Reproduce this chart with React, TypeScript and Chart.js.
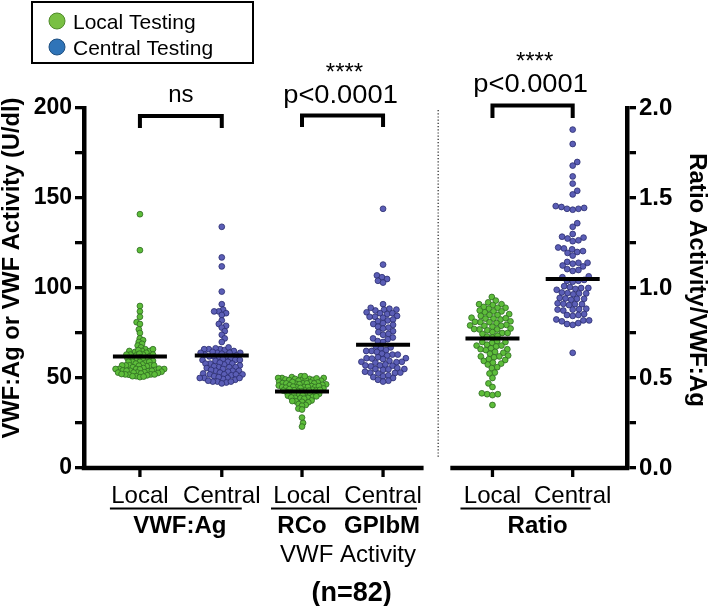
import React, { useEffect, useRef } from 'react';
import { Chart, registerables } from 'chart.js';

Chart.register(...registerables);

// ---------------- data ----------------
const categories = ['Local', 'Central', 'Local', 'Central', 'Local', 'Central'];
const groupLabels = ['VWF:Ag', 'RCo', 'GPIbM', 'Ratio'];
const activityLabel = 'VWF Activity';
const nLabel = '(n=82)';
const seriesNames = ['Local Testing', 'Central Testing'];
const leftTitle = 'VWF:Ag or VWF Activity (U/dl)';
const rightTitle = 'Ratio Activity/VWF:Ag';
const leftMajorStep = 50;
const rightMajorStep = 0.5;
const significance = ['ns', 'p<0.0001', 'p<0.0001'];
const stars = ['', '****', '****'];

const agLocal = [
  141, 121, 90, 87, 84, 81, 80, 77, 75, 72, 71, 70, 69, 68, 67, 66,
  65, 65, 64.5, 65.5, 64, 65, 66,
  63, 62.5, 63, 63.5, 62, 63, 63,
  61, 60.5, 61, 61.5, 60, 61,
  59, 59, 58.5, 59.5, 58, 59, 59,
  57, 57, 56.5, 57.5, 56, 57, 57, 57, 56.8,
  55, 55, 54.5, 55.5, 55, 55, 54.8, 55.2,
  54, 53.8, 54.2, 54, 53.5, 54,
  53, 52.8, 53, 53.2, 52.5, 53,
  52, 51.8, 52, 52.2, 51.5, 52,
  51, 50.5, 50.8, 51,
];
const agCentral = [
  134, 117, 112, 98, 91, 88, 87, 87, 86, 85, 82, 80, 79, 78, 76, 74, 72, 70,
  66, 66.5, 65.5, 66, 65, 66, 67,
  64, 64, 63.5, 64.5, 63, 64, 64,
  62, 61.5, 62, 62.5, 61, 62,
  60, 60, 59.5, 60.5, 59, 60,
  58, 58, 57.5, 58.5, 57, 58,
  56, 56, 55.5, 56.5, 55, 56,
  54, 54, 53.5, 54.5, 53, 54,
  52, 52, 51.5, 52.5, 51, 52, 52,
  50, 50, 49.5, 50.5, 49, 50, 50,
  48, 48, 47.5, 48.5, 47, 48,
];
const rcoLocal = [
  51, 50.5, 50, 50, 49.5, 49.5, 49, 49, 49, 48.5, 48.5, 50, 51, 49.8, 49.2, 48.8,
  48, 47.5, 47.5, 47, 47, 47, 46.8, 46.5, 46.5, 47.2, 47.8, 46.2, 47, 46,
  45.5, 45, 45, 45, 44.8, 44.5, 45.2, 45.8, 44.2, 45, 45.5, 44.6,
  43.5, 43, 43, 43, 42.8, 42.5, 43.2, 43.8, 42.2, 43, 43.4,
  41.5, 41, 41, 40.8, 40.5, 41.2, 41.8, 40.2, 41,
  39.5, 39, 39, 38.8, 38.5, 39.2, 39.8,
  37.5, 37, 36.8, 36.5, 37.2,
  35.5, 35, 34.6,
  33, 32.5,
  28, 25, 23,
];
const gpibmCentral = [
  144, 113, 107, 106, 105, 104, 103, 91,
  88, 88.5, 87.5, 88, 89, 86, 86.5, 85.5, 86, 84, 84.5, 83.5, 84,
  82, 82.5, 81.5, 80, 80.5, 79.5, 78, 78.5, 77.5, 76, 75.5, 74, 74.5,
  72, 72.5, 71.5, 70, 70.5,
  67, 67.5, 66.5, 65, 65.5, 64.5, 65, 63, 63.5, 62.5, 63,
  61, 61.5, 60.5, 61, 60.8, 59, 59.5, 58.5, 59, 58.8,
  57, 57.5, 56.5, 57, 56.8, 55, 55.5, 54.5, 55, 54.8,
  53, 53.5, 52.5, 53, 52.8, 51, 50.5, 50, 51.5, 49, 48.5, 48,
];
const ratioLocal = [
  0.95, 0.93, 0.92, 0.91, 0.905, 0.91,
  0.89, 0.885, 0.89, 0.895,
  0.87, 0.865, 0.875, 0.87,
  0.85, 0.845, 0.855, 0.85,
  0.83, 0.825, 0.835, 0.83, 0.832,
  0.81, 0.805, 0.815, 0.81, 0.812,
  0.79, 0.785, 0.795, 0.79, 0.792,
  0.77, 0.765, 0.775, 0.77, 0.772,
  0.75, 0.745, 0.755, 0.75,
  0.73, 0.725, 0.735,
  0.70, 0.695, 0.705, 0.70,
  0.68, 0.675, 0.685, 0.68,
  0.66, 0.655, 0.665, 0.66,
  0.64, 0.635, 0.645,
  0.62, 0.615, 0.625, 0.62,
  0.60, 0.595, 0.605,
  0.58, 0.575, 0.585,
  0.56, 0.555,
  0.53, 0.525,
  0.50, 0.47, 0.45,
  0.41, 0.405, 0.41, 0.415,
  0.35,
];
const ratioCentral = [
  1.88, 1.80, 1.70, 1.68, 1.62, 1.58, 1.54, 1.52,
  1.45, 1.455, 1.44, 1.445, 1.435, 1.44,
  1.36, 1.34, 1.30,
  1.28, 1.285, 1.275, 1.26, 1.265,
  1.22, 1.225, 1.215, 1.20, 1.205, 1.195, 1.18,
  1.14, 1.145, 1.135, 1.14, 1.12, 1.125,
  1.10, 1.105, 1.095, 1.06, 1.065,
  1.04, 1.045, 1.035, 1.04,
  1.00, 1.005, 0.995, 1.00, 1.01, 0.99,
  0.97, 0.975, 0.965, 0.97, 0.972,
  0.94, 0.945, 0.935, 0.94, 0.942,
  0.91, 0.915, 0.905, 0.91, 0.912,
  0.88, 0.885, 0.875, 0.88, 0.882,
  0.85, 0.855, 0.845, 0.85,
  0.82, 0.825, 0.815, 0.82,
  0.80, 0.805, 0.795,
  0.64,
];
const means = [62, 62.5, 42.5, 68.5, 0.72, 1.05];

// ---------------- layout / style ----------------
const W = 709;
const H = 606;
const FONT = "'Liberation Sans', Arial, Helvetica, sans-serif";
const CAT_X = [0.69, 1.7, 2.69, 3.69, 5.04, 6.03];
const X_MAX = 6.7;
const LEFT_END = 4.19;
const RIGHT_START = 4.52;
const DIVIDER_X = 4.37;
const GREEN = '#5dbd3a';
const GREEN_EDGE = '#2f6a22';
const BLUE = '#5b5eb6';
const BLUE_EDGE = '#2a2c6e';
const LEG_GREEN = '#79c043';
const LEG_BLUE = '#2f74b8';

const groups = [agLocal, agCentral, rcoLocal, gpibmCentral, ratioLocal, ratioCentral];
const isCentral = [false, true, false, true, false, true];
const axisOf = ['y', 'y', 'y', 'y', 'y2', 'y2'];

function place(pys: number[], d: number): number[] {
  const idx = pys.map((_, i) => i).sort((a, b) => pys[b] - pys[a]);
  const placed: { x: number; y: number }[] = [];
  const out = new Array(pys.length).fill(0);
  let flip = 1;
  for (const i of idx) {
    const y = pys[i];
    const near = placed.filter((p) => Math.abs(p.y - y) < d);
    const cands = [0];
    for (const p of near) {
      const dx = Math.sqrt(d * d - (p.y - y) ** 2);
      cands.push(p.x + dx, p.x - dx);
    }
    cands.sort((a, b) => Math.abs(a) - Math.abs(b) || (a - b) * flip);
    let x = cands[cands.length - 1];
    for (const c of cands) {
      if (near.every((p) => (p.x - c) ** 2 + (p.y - y) ** 2 >= d * d - 1e-3)) {
        x = c;
        break;
      }
    }
    flip = -flip;
    out[i] = x;
    placed.push({ x, y });
  }
  return out;
}

function swarm(pys: number[], d0: number, maxHalf: number): number[] {
  let d = d0;
  for (let it = 0; it < 14; it++) {
    const r = place(pys, d);
    if (Math.max(...r.map(Math.abs)) <= maxHalf) return r;
    d *= 0.93;
  }
  return place(pys, d).map((x) => Math.max(-maxHalf, Math.min(maxHalf, x)));
}

function txt(
  ctx: CanvasRenderingContext2D,
  s: string,
  x: number,
  y: number,
  size: number,
  bold: boolean,
  sx = 1,
  align: CanvasTextAlign = 'center',
  rot = 0
) {
  ctx.save();
  ctx.translate(x, y);
  if (rot) ctx.rotate(rot);
  ctx.scale(sx, 1);
  ctx.font = `${bold ? 'bold ' : ''}${size}px ${FONT}`;
  ctx.textAlign = align;
  ctx.textBaseline = 'alphabetic';
  ctx.fillStyle = '#000';
  ctx.fillText(s, 0, 0);
  ctx.restore();
}

const decor = {
  id: 'decor',
  afterDatasetsDraw(chart: any) {
    const ctx: CanvasRenderingContext2D = chart.ctx;
    const xs = chart.scales.x;
    ctx.save();
    ctx.strokeStyle = '#000';
    ctx.lineCap = 'butt';
    ctx.lineWidth = 4;
    means.forEach((m, i) => {
      const px = xs.getPixelForValue(CAT_X[i]);
      const py = chart.scales[axisOf[i]].getPixelForValue(m);
      ctx.beginPath();
      ctx.moveTo(px - 27, py);
      ctx.lineTo(px + 27, py);
      ctx.stroke();
    });
    ctx.restore();
  },
  afterDraw(chart: any) {
    const ctx: CanvasRenderingContext2D = chart.ctx;
    const xs = chart.scales.x;
    const area = chart.chartArea;
    const cx = CAT_X.map((v) => xs.getPixelForValue(v));
    const base = area.bottom;
    ctx.save();
    ctx.strokeStyle = '#000';
    ctx.fillStyle = '#000';
    // bottom axis segments
    ctx.lineWidth = 4.5;
    ctx.beginPath();
    ctx.moveTo(area.left - 2.25, base);
    ctx.lineTo(xs.getPixelForValue(LEFT_END), base);
    ctx.moveTo(xs.getPixelForValue(RIGHT_START), base);
    ctx.lineTo(area.right + 2.25, base);
    ctx.stroke();
    // category ticks
    ctx.lineWidth = 3.3;
    cx.forEach((x) => {
      ctx.beginPath();
      ctx.moveTo(x, base);
      ctx.lineTo(x, base + 9);
      ctx.stroke();
    });
    // dotted divider
    ctx.lineWidth = 1.2;
    ctx.setLineDash([1.2, 2]);
    ctx.strokeStyle = '#222';
    const dx = xs.getPixelForValue(DIVIDER_X);
    ctx.beginPath();
    ctx.moveTo(dx, area.top + 2);
    ctx.lineTo(dx, base - 10);
    ctx.stroke();
    ctx.setLineDash([]);
    ctx.strokeStyle = '#000';

    // brackets
    const brackets = [
      { a: 0, b: 1, top: 116, leg: 128, pY: 102, sY: 0 },
      { a: 2, b: 3, top: 115.5, leg: 127, pY: 103, sY: 80 },
      { a: 4, b: 5, top: 105.5, leg: 118, pY: 92, sY: 69 },
    ];
    ctx.lineWidth = 4;
    brackets.forEach((br, k) => {
      const x1 = cx[br.a];
      const x2 = cx[br.b];
      ctx.beginPath();
      ctx.moveTo(x1, br.leg);
      ctx.lineTo(x1, br.top);
      ctx.lineTo(x2, br.top);
      ctx.lineTo(x2, br.leg);
      ctx.stroke();
      const mid = (x1 + x2) / 2;
      if (k === 0) txt(ctx, significance[k], mid, br.pY, 24, false);
      else {
        txt(ctx, significance[k], mid - 2, br.pY, 26, false, 1.05);
        txt(ctx, stars[k], mid + 2, br.sY, 24, false);
      }
    });

    // bottom labels
    categories.forEach((c, i) => txt(ctx, c, cx[i], 503, 24, false));
    const ul = [
      [cx[0] - 30, cx[1] + 20],
      [cx[2] - 31, cx[3] + 34],
      [cx[4] - 32, cx[5] + 18],
    ];
    ctx.lineWidth = 2;
    ul.forEach(([a, b]) => {
      ctx.beginPath();
      ctx.moveTo(a, 508.5);
      ctx.lineTo(b, 508.5);
      ctx.stroke();
    });
    txt(ctx, groupLabels[0], (cx[0] + cx[1]) / 2 - 1, 533, 24, true);
    txt(ctx, groupLabels[1], cx[2], 533, 24, true);
    txt(ctx, groupLabels[2], cx[3] - 1, 533, 24, true);
    txt(ctx, groupLabels[3], (cx[4] + cx[5]) / 2 + 5, 533, 24, true);
    txt(ctx, activityLabel, (cx[2] + cx[3]) / 2 + 5.5, 562, 24, false);
    txt(ctx, nLabel, (cx[2] + cx[3]) / 2 + 9, 601, 27, true);

    // axis titles
    txt(ctx, leftTitle, 19, (area.top + area.bottom) / 2 - 20, 23, true, 1.03, 'center', -Math.PI / 2);
    txt(ctx, rightTitle, 690, (area.top + area.bottom) / 2 - 8, 23, true, 1.045, 'center', Math.PI / 2);

    // legend
    ctx.lineWidth = 2;
    ctx.strokeRect(32, 2, 221, 61);
    const legItems = [
      { y: 21, c: LEG_GREEN, e: '#4f8a2a' },
      { y: 47, c: LEG_BLUE, e: '#1f4f80' },
    ];
    legItems.forEach((it, i) => {
      ctx.beginPath();
      ctx.arc(57, it.y, 8, 0, Math.PI * 2);
      ctx.fillStyle = it.c;
      ctx.fill();
      ctx.lineWidth = 1;
      ctx.strokeStyle = it.e;
      ctx.stroke();
      ctx.fillStyle = '#000';
      txt(ctx, seriesNames[i], 73, it.y + 7.5, 21, false, 1, 'left');
    });
    ctx.restore();
  },
};

export default function App() {
  const ref = useRef<HTMLCanvasElement | null>(null);
  useEffect(() => {
    if (!ref.current) return;
    Chart.defaults.font.family = FONT;
    Chart.defaults.color = '#000';
    const chart = new Chart(ref.current, {
      type: 'scatter',
      data: {
        datasets: groups.map((vals, i) => ({
          label: categories[i],
          data: vals.map((v) => ({ x: CAT_X[i], y: v })),
          yAxisID: axisOf[i],
          backgroundColor: isCentral[i] ? BLUE : GREEN,
          borderColor: isCentral[i] ? BLUE_EDGE : GREEN_EDGE,
          borderWidth: 0.8,
          pointRadius: 2.9,
          pointHoverRadius: 2.9,
          clip: false as any,
        })),
      },
      options: {
        responsive: false,
        animation: false,
        layout: { padding: { top: 108, bottom: 138, left: 0, right: 0 } },
        plugins: { legend: { display: false }, tooltip: { enabled: false } },
        events: [],
        scales: {
          x: { type: 'linear', min: 0, max: X_MAX, display: false },
          y: {
            position: 'left',
            min: 0,
            max: 200,
            afterFit: (s: any) => {
              s.width = 84;
            },
            ticks: {
              stepSize: 25,
              autoSkip: false,
              padding: 3,
              color: '#000',
              font: { size: 23, weight: 'bold', family: FONT },
              callback: (v: any) => (Number(v) % leftMajorStep === 0 ? String(v) : ''),
            },
            grid: { drawOnChartArea: false, drawTicks: true, tickLength: 9, lineWidth: 3.3, color: '#000' },
            border: { display: true, width: 4.5, color: '#000' },
          },
          y2: {
            position: 'right',
            min: 0,
            max: 2,
            afterFit: (s: any) => {
              s.width = W - 627;
            },
            ticks: {
              stepSize: 0.25,
              autoSkip: false,
              padding: 3,
              color: '#000',
              font: { size: 24, weight: 'bold', family: FONT },
              callback: (v: any) => {
                const n = Number(v) / rightMajorStep;
                return Math.abs(n - Math.round(n)) < 1e-6 ? Number(v).toFixed(1) : '';
              },
            },
            grid: { drawOnChartArea: false, drawTicks: true, tickLength: 9, lineWidth: 3.3, color: '#000' },
            border: { display: true, width: 4.5, color: '#000' },
          },
        } as any,
      },
      plugins: [decor],
    } as any);

    const xs = chart.scales.x;
    const ppu = xs.getPixelForValue(1) - xs.getPixelForValue(0);
    groups.forEach((vals, i) => {
      const sc = chart.scales[axisOf[i]];
      const pys = vals.map((v) => sc.getPixelForValue(v));
      const offs = swarm(pys, 5.8, 25);
      (chart.data.datasets[i] as any).data = vals.map((v, k) => ({ x: CAT_X[i] + offs[k] / ppu, y: v }));
    });
    chart.update();
    return () => chart.destroy();
  }, []);

  return (
    <div style={{ position: 'fixed', left: 0, top: 0, width: W, height: H, background: '#fff' }}>
      <canvas ref={ref} width={W} height={H} style={{ display: 'block', width: W, height: H }} />
    </div>
  );
}
